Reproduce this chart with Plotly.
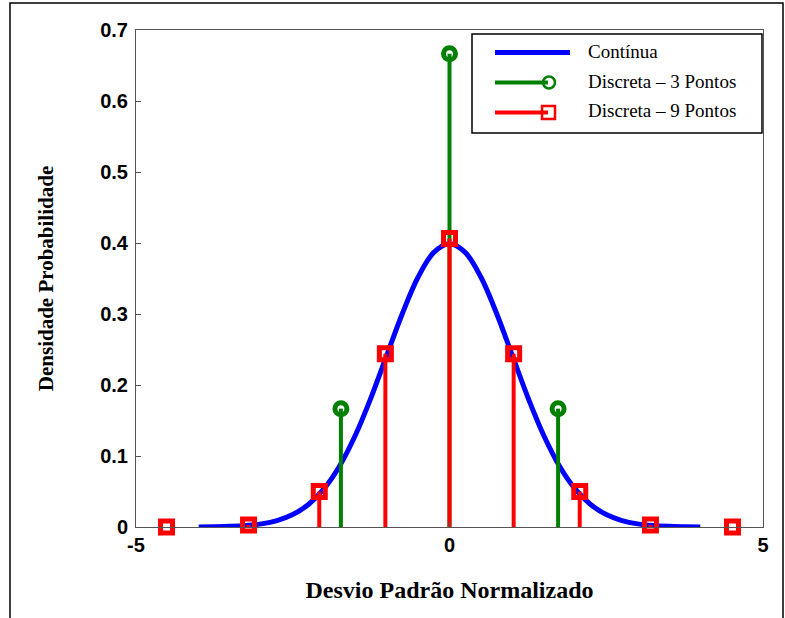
import plotly.graph_objects as go

# Continuous curve
cont_x = [-4.0, -3.75, -3.5, -3.25, -3.0, -2.75, -2.5, -2.25, -2.0, -1.75, -1.5, -1.25, -1.0, -0.75, -0.5, -0.25,
          0.0, 0.25, 0.5, 0.75, 1.0, 1.25, 1.5, 1.75, 2.0, 2.25, 2.5, 2.75, 3.0, 3.25, 3.5, 3.75, 4.0]
cont_y = [0.0001, 0.0004, 0.0009, 0.0020, 0.0044, 0.0091, 0.0175, 0.0317, 0.0540, 0.0863, 0.1295, 0.1826,
          0.2420, 0.3011, 0.3521, 0.3867, 0.3989, 0.3867, 0.3521, 0.3011, 0.2420, 0.1826, 0.1295, 0.0863,
          0.0540, 0.0317, 0.0175, 0.0091, 0.0044, 0.0020, 0.0009, 0.0004, 0.0001]

# Discrete - 3 points
d3_x = [-1.732, 0.0, 1.732]
d3_y = [0.1667, 0.6667, 0.1667]

# Discrete - 9 points
d9_x = [-4.513, -3.205, -2.077, -1.023, 0.0, 1.023, 2.077, 3.205, 4.513]
d9_y = [0.00002, 0.0028, 0.0500, 0.2441, 0.4064, 0.2441, 0.0500, 0.0028, 0.00002]

names = ["Contínua", "Discreta – 3 Pontos", "Discreta – 9 Pontos"]
x_ticks = [-5, 0, 5]
y_ticks = [0, 0.1, 0.2, 0.3, 0.4, 0.5, 0.6, 0.7]

BLUE = "#0000ff"
GREEN = "#008000"
RED = "#ff0000"

W, H = 785, 618
ML, MR, MT, MB = 136, 22, 30, 91
PW, PH = W - ML - MR, H - MT - MB


def px(x):
    return (x - ML) / PW


def py(y):
    return (H - MB - y) / PH


def stems(xs, ys):
    sx, sy = [], []
    for x, y in zip(xs, ys):
        sx += [x, x, None]
        sy += [0, y, None]
    return sx, sy


fig = go.Figure()
fig.add_trace(go.Scatter(x=cont_x, y=cont_y, mode="lines", name=names[0], showlegend=False,
                         line=dict(color=BLUE, width=5, shape="spline"), cliponaxis=False))

for xs, ys, col, sym in [(d3_x, d3_y, GREEN, "circle-open"), (d9_x, d9_y, RED, "square-open")]:
    sx, sy = stems(xs, ys)
    fig.add_trace(go.Scatter(x=sx, y=sy, mode="lines", showlegend=False,
                             line=dict(color=col, width=4), cliponaxis=False))
    fig.add_trace(go.Scatter(x=xs, y=ys, mode="markers", showlegend=False, cliponaxis=False,
                             marker=dict(symbol=sym, size=12, color=col, line=dict(color=col, width=5))))

axis_common = dict(showgrid=False, zeroline=False, showline=True, linecolor="#555555", linewidth=1,
                   mirror=True, ticks="inside", ticklen=5, tickcolor="#555555",
                   tickfont=dict(family="Liberation Sans", size=20, color="black", weight="bold"))

fig.update_xaxes(range=[-5, 5], tickvals=x_ticks, ticktext=[str(v) for v in x_ticks],
                 title=dict(text="Desvio Padrão Normalizado", standoff=26,
                            font=dict(family="Liberation Serif", size=24, color="black", weight="bold")),
                 **axis_common)
fig.update_yaxes(range=[0, 0.7], tickvals=y_ticks, ticktext=["0"] + [f"{v:.1f}" for v in y_ticks[1:]],
                 ticklabelstandoff=3,
                 title=dict(text="Densidade Probabilidade", standoff=40,
                            font=dict(family="Liberation Serif", size=21, color="black", weight="bold")),
                 **axis_common)

# Manual legend (MATLAB style)
shapes = [
    dict(type="rect", xref="paper", yref="paper", x0=px(10), x1=px(783), y0=py(640), y1=py(3),
         line=dict(color="black", width=1.5), fillcolor="rgba(0,0,0,0)", layer="below"),
    dict(type="rect", xref="paper", yref="paper", x0=px(472), x1=px(762), y0=py(133), y1=py(34),
         line=dict(color="black", width=1.5), fillcolor="white", layer="above"),
    dict(type="line", xref="paper", yref="paper", x0=px(495), x1=px(570), y0=py(52.5), y1=py(52.5),
         line=dict(color=BLUE, width=5), layer="above"),
    dict(type="line", xref="paper", yref="paper", x0=px(495), x1=px(548), y0=py(82.5), y1=py(82.5),
         line=dict(color=GREEN, width=4), layer="above"),
    dict(type="circle", xref="paper", yref="paper", x0=px(543), x1=px(555), y0=py(88.5), y1=py(76.5),
         line=dict(color=GREEN, width=2.5), fillcolor="rgba(0,0,0,0)", layer="above"),
    dict(type="line", xref="paper", yref="paper", x0=px(495), x1=px(548), y0=py(112.5), y1=py(112.5),
         line=dict(color=RED, width=4), layer="above"),
    dict(type="rect", xref="paper", yref="paper", x0=px(542), x1=px(555), y0=py(119), y1=py(106),
         line=dict(color=RED, width=2.5), fillcolor="rgba(0,0,0,0)", layer="above"),
]
annotations = [
    dict(text=nm, xref="paper", yref="paper", x=px(586), y=py(yy), xanchor="left", yanchor="middle",
         showarrow=False, font=dict(family="Liberation Serif", size=19, color="black"))
    for nm, yy in zip(names, [51, 81, 111])
]

fig.update_layout(
    width=W, height=H,
    margin=dict(l=ML, r=MR, t=MT, b=MB),
    paper_bgcolor="white", plot_bgcolor="white",
    showlegend=False,
    shapes=shapes, annotations=annotations,
)

fig.write_html("out.html", config={"displayModeBar": False},
               post_script="document.body.style.margin='0px';")
